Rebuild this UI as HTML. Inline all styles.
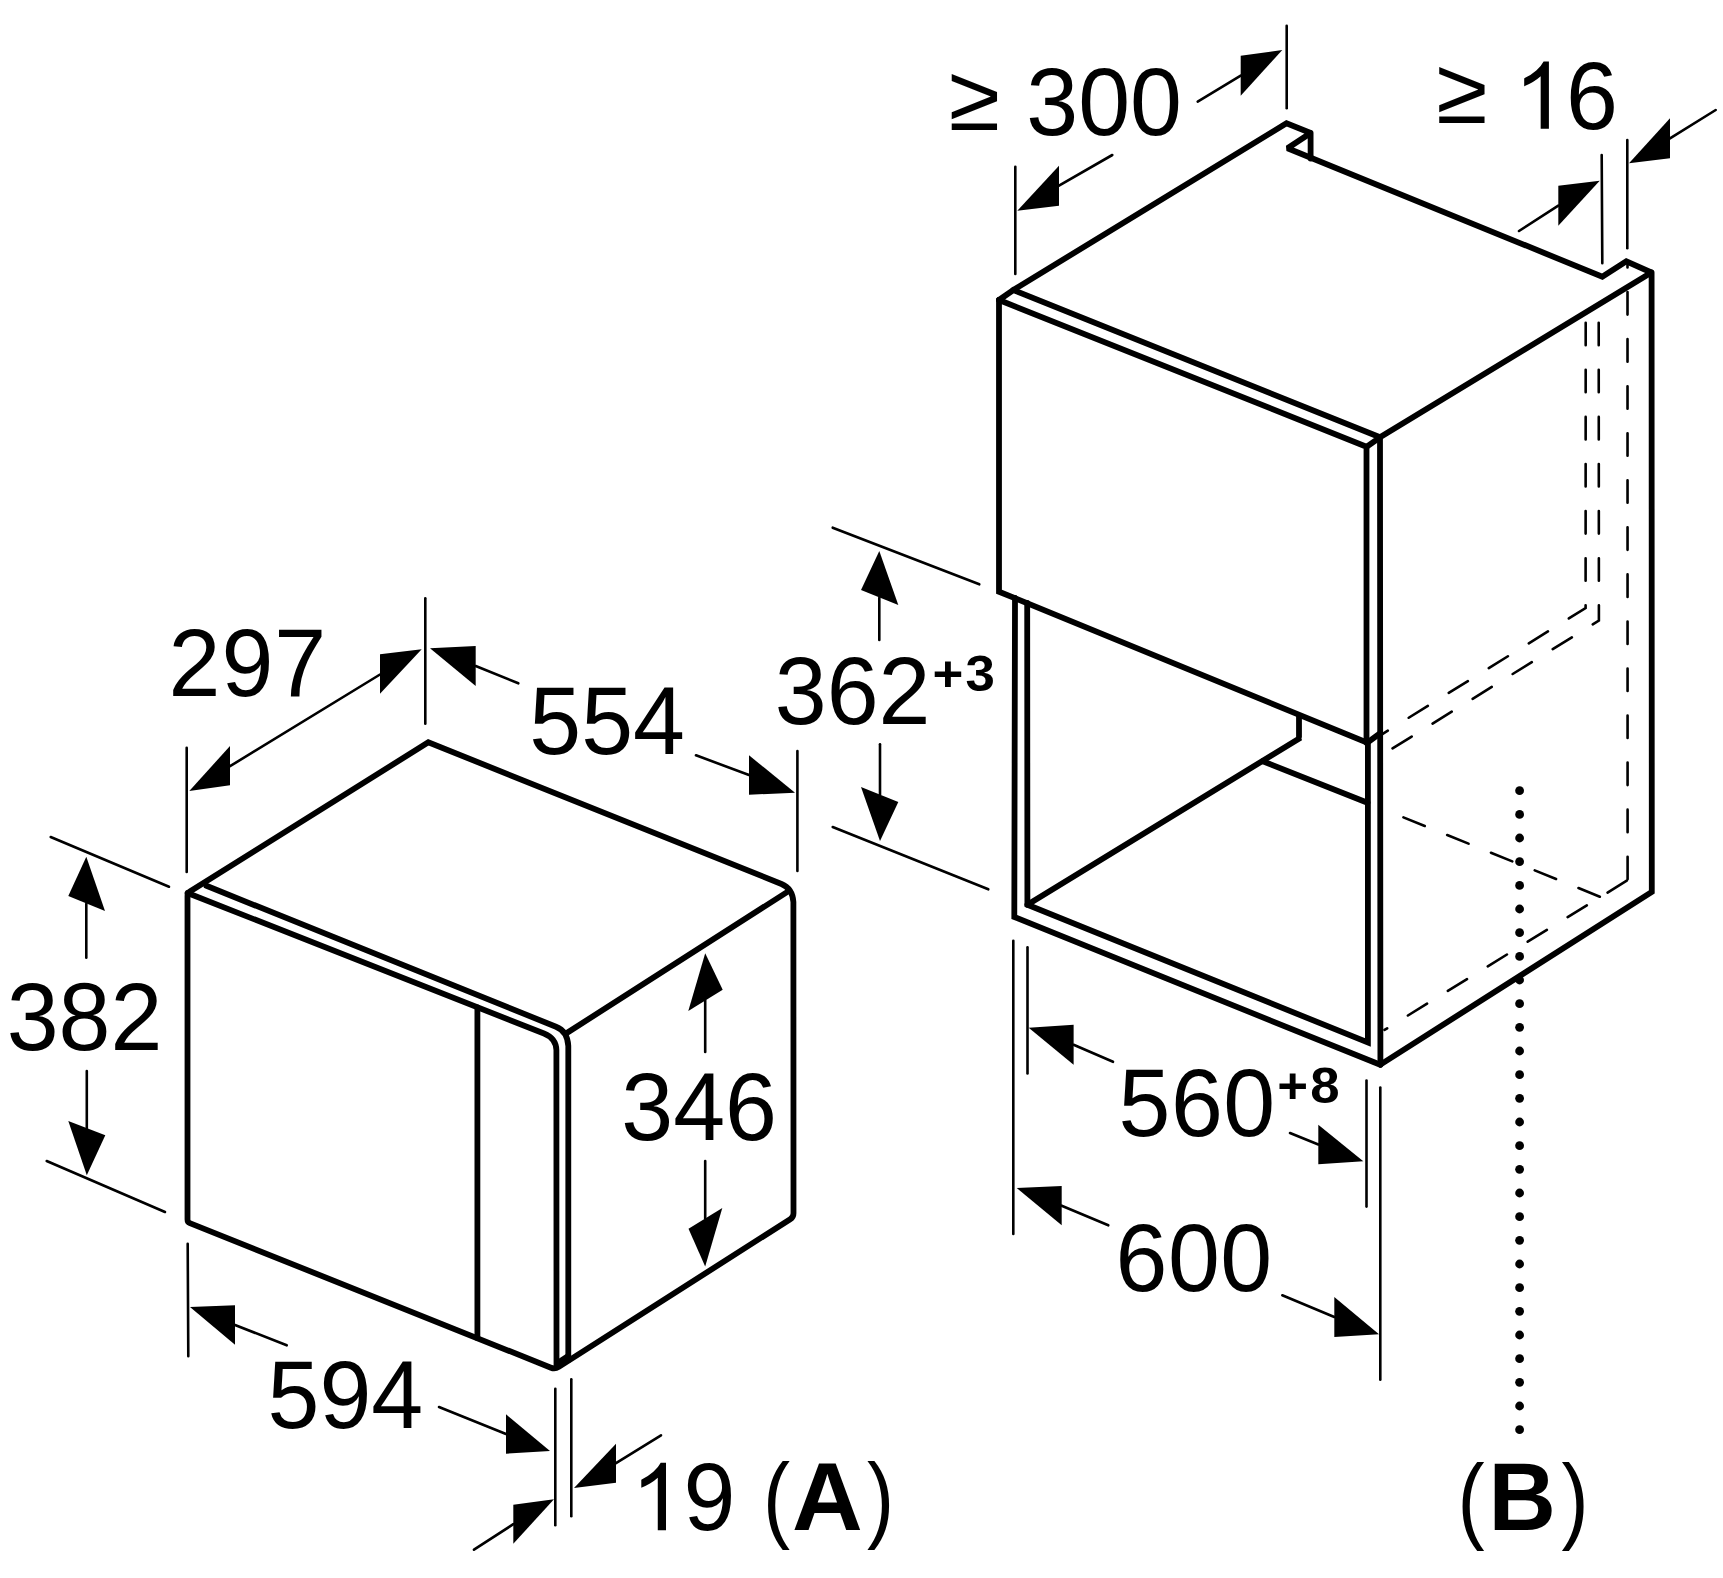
<!DOCTYPE html>
<html><head><meta charset="utf-8"><title>Dimensions</title>
<style>html,body{margin:0;padding:0;background:#fff;overflow:hidden}svg{display:block}text{font-family:"Liberation Sans",sans-serif;fill:#000}</style></head><body>
<svg width="1723" height="1578" viewBox="0 0 1723 1578">
<rect width="1723" height="1578" fill="#fff"/>
<g fill="none" stroke="#000" stroke-width="5.8" stroke-linejoin="miter" stroke-miterlimit="2" stroke-linecap="round">
<path d="M187.5,1219.5 L187.5,895.8 Q187.5,893 189.9,891.5 L428.3,742.3 L781.5,884 Q792.5,888.5 793.4,902 L793.5,1213.2 Q793.5,1217.2 790.2,1219.2 L558.8,1366.9 Q555,1369.3 551,1367.7 L189.8,1223.1 Q187.5,1222.2 187.5,1219.5 Z"/>
<path d="M566.8,1033.0 L787.0,892.1"/>
<path d="M206.4,885.8 L556,1026.7 Q567.6,1031.3 568.3,1046 L568.3,1360"/>
<path d="M187.5,893 L544,1033.5 Q555.9,1038.2 556.4,1050 L556.5,1367"/>
<path d="M558.0,1362.6 L567.5,1356.5"/>
<path d="M477.4,1007.5 L477.4,1338.0"/>
<path d="M999,300 L999,591.7 L1367.3,742.7 L1380,733.3"/>
<path d="M999.0,300.0 L1366.5,446.7 L1366.5,742.7"/>
<path d="M999.0,300.0 L1013.3,290.0 L1380.0,437.3 L1366.5,446.9"/>
<path d="M1380.0,437.3 L1380.4,1064.6"/>
<path d="M1013.3,290.0 L1286.5,123.3 L1310.7,133.0 L1287.5,148.2 L1602.3,276.7 L1626.3,261.3 L1651.4,272.5 L1380.0,437.3"/>
<path d="M1310.6,133.0 L1310.6,158.5"/>
<path d="M1651.6,272.5 L1651.8,892.0 L1380.4,1064.6"/>
<path d="M1015.0,598.0 L1014.3,917.0 L1380.3,1064.8"/>
<path d="M1027.2,603.0 L1027.4,904.7 L1367.9,1042.5 L1367.9,742.7"/>
<path d="M1027.4,904.7 L1300.5,737.7 L1299.0,737.7 L1299.0,716.0"/>
<path d="M1262.8,761.3 L1367.5,802.7"/>
</g>
<g fill="none" stroke="#000" stroke-width="2.6" stroke-linecap="round">
<path d="M186.7,747.7 L186.7,872.0"/>
<path d="M425.3,598.3 L425.3,723.7"/>
<path d="M230.0,766.2 L380.0,674.5"/>
<path d="M475.7,666.0 L518.3,683.3"/>
<path d="M749.0,775.0 L696.0,755.3"/>
<path d="M797.4,751.0 L797.4,871.0"/>
<path d="M50.7,837.0 L169.0,886.7"/>
<path d="M46.7,1161.0 L165.0,1212.0"/>
<path d="M86.3,903.5 L86.3,957.7"/>
<path d="M86.8,1128.2 L86.8,1071.0"/>
<path d="M187.7,1243.7 L188.3,1356.3"/>
<path d="M235.0,1325.0 L286.7,1345.3"/>
<path d="M506.0,1434.0 L439.0,1407.0"/>
<path d="M555.3,1388.7 L555.3,1525.3"/>
<path d="M571.3,1379.3 L571.3,1516.3"/>
<path d="M616.0,1463.2 L661.0,1435.3"/>
<path d="M513.3,1524.2 L474.0,1549.7"/>
<path d="M705.2,1000.4 L705.2,1052.0"/>
<path d="M705.2,1218.3 L705.2,1161.0"/>
<path d="M1015.3,166.7 L1015.3,274.0"/>
<path d="M1286.7,25.7 L1286.7,108.3"/>
<path d="M1059.0,185.7 L1112.3,155.0"/>
<path d="M1240.7,75.7 L1197.7,101.7"/>
<path d="M1601.7,155.0 L1602.3,263.3"/>
<path d="M1627.3,140.0 L1627.3,248.3"/>
<path d="M1670.0,138.3 L1715.7,110.0"/>
<path d="M1558.3,205.7 L1519.0,231.0"/>
<path d="M832.7,527.7 L979.3,584.3"/>
<path d="M832.7,827.0 L988.3,889.3"/>
<path d="M879.3,597.5 L879.3,640.0"/>
<path d="M880.0,794.5 L880.0,744.3"/>
<path d="M1027.5,947.4 L1027.5,1073.5"/>
<path d="M1366.5,1080.5 L1366.5,1206.6"/>
<path d="M1013.3,940.7 L1013.3,1234.0"/>
<path d="M1380.3,1087.5 L1380.3,1379.7"/>
<path d="M1073.6,1044.8 L1113.0,1061.8"/>
<path d="M1318.3,1144.5 L1290.0,1133.0"/>
<path d="M1061.7,1205.7 L1108.3,1225.3"/>
<path d="M1334.3,1317.0 L1282.3,1295.3"/>
</g>
<g fill="none" stroke="#000" stroke-width="2.6" stroke-linecap="round">
<path d="M1585.7,321.7 L1585.6,608.1 L1380.4,735.3" stroke-dasharray="22.50 24.60" stroke-dashoffset="-1.00"/>
<path d="M1598.7,321.7 L1598.9,620.6 L1391.7,748.9" stroke-dasharray="22.50 24.60" stroke-dashoffset="-1.00"/>
<path d="M1627.6,880.2 L1627.5,263" stroke-dasharray="22.50 24.55" stroke-dashoffset="-1.00"/>
<path d="M1627.6,880.2 L1384.5,1029.9" stroke-dasharray="22.50 24.40" stroke-dashoffset="-1.00"/>
<path d="M1402.5,817 L1600.1,896.8" stroke-dasharray="23.00 24.20" stroke-dashoffset="-1.00"/>
</g>
<g fill="#000">
<polygon points="189.3,791.0 230.0,746.0 230.0,785.3"/>
<polygon points="421.7,649.3 380.0,654.3 380.0,693.7"/>
<polygon points="430.0,648.3 475.7,646.0 475.7,686.0"/>
<polygon points="795.0,792.7 749.0,755.3 749.0,794.7"/>
<polygon points="86.3,856.7 68.3,896.0 105.0,911.0"/>
<polygon points="86.8,1175.3 68.3,1121.0 105.3,1135.3"/>
<polygon points="190.0,1307.0 235.0,1305.3 235.0,1344.7"/>
<polygon points="550.0,1451.0 506.0,1414.3 506.0,1453.7"/>
<polygon points="574.0,1488.0 616.0,1443.7 616.0,1482.7"/>
<polygon points="554.0,1499.3 513.3,1504.7 513.3,1543.7"/>
<polygon points="705.2,953.3 688.3,1011.0 722.7,989.7"/>
<polygon points="705.2,1266.4 688.5,1228.7 722.3,1207.9"/>
<polygon points="1017.3,210.7 1059.0,165.7 1059.0,205.7"/>
<polygon points="1282.3,50.0 1240.7,55.7 1240.7,95.7"/>
<polygon points="1629.0,163.3 1670.0,118.3 1670.0,158.3"/>
<polygon points="1599.7,180.7 1558.3,185.7 1558.3,225.7"/>
<polygon points="879.3,551.0 861.0,590.0 898.3,605.0"/>
<polygon points="880.0,841.0 861.0,787.0 898.3,802.0"/>
<polygon points="1028.7,1027.8 1073.6,1024.8 1073.6,1064.8"/>
<polygon points="1363.3,1161.3 1318.3,1124.7 1318.3,1164.3"/>
<polygon points="1016.7,1188.0 1061.7,1186.0 1061.7,1225.3"/>
<polygon points="1379.0,1334.3 1334.3,1297.0 1334.3,1337.0"/>
<circle cx="1519.6" cy="790.7" r="4.4"/>
<circle cx="1519.6" cy="814.4" r="4.4"/>
<circle cx="1519.6" cy="838.0" r="4.4"/>
<circle cx="1519.6" cy="861.7" r="4.4"/>
<circle cx="1519.6" cy="885.4" r="4.4"/>
<circle cx="1519.6" cy="909.0" r="4.4"/>
<circle cx="1519.6" cy="932.7" r="4.4"/>
<circle cx="1519.6" cy="956.4" r="4.4"/>
<circle cx="1519.6" cy="980.0" r="4.4"/>
<circle cx="1519.6" cy="1003.7" r="4.4"/>
<circle cx="1519.6" cy="1027.3" r="4.4"/>
<circle cx="1519.6" cy="1051.0" r="4.4"/>
<circle cx="1519.6" cy="1074.7" r="4.4"/>
<circle cx="1519.6" cy="1098.3" r="4.4"/>
<circle cx="1519.6" cy="1122.0" r="4.4"/>
<circle cx="1519.6" cy="1145.7" r="4.4"/>
<circle cx="1519.6" cy="1169.3" r="4.4"/>
<circle cx="1519.6" cy="1193.0" r="4.4"/>
<circle cx="1519.6" cy="1216.7" r="4.4"/>
<circle cx="1519.6" cy="1240.3" r="4.4"/>
<circle cx="1519.6" cy="1264.0" r="4.4"/>
<circle cx="1519.6" cy="1287.7" r="4.4"/>
<circle cx="1519.6" cy="1311.3" r="4.4"/>
<circle cx="1519.6" cy="1335.0" r="4.4"/>
<circle cx="1519.6" cy="1358.7" r="4.4"/>
<circle cx="1519.6" cy="1382.3" r="4.4"/>
<circle cx="1519.6" cy="1406.0" r="4.4"/>
<circle cx="1519.6" cy="1429.7" r="4.4"/>
</g>
<g>
<text transform="translate(168.5,695.7) scale(1,1.03)" font-size="93.3" letter-spacing="1">297</text>
<text transform="translate(529.3,754.3) scale(1,1.03)" font-size="93.3">554</text>
<text transform="translate(6.7,1050.0) scale(1,1.03)" font-size="93.3">382</text>
<text transform="translate(621.3,1139.6) scale(1,1.03)" font-size="93.3">346</text>
<text transform="translate(267.5,1428.3) scale(1,1.03)" font-size="93.3">594</text>
<path transform="translate(631.1,1530.2) scale(0.04575,-0.04575)" d="M763,0 L583,0 L583,1147 Q518,1085 412.5,1023 Q307,961 223,930 L223,1104 Q374,1175 487,1276 Q600,1377 647,1472 L763,1472 Z" fill="#000"/>
<text transform="translate(683.6,1530.2) scale(1,1.03)" font-size="93.3">9</text>
<text transform="translate(762.95,1530.4) scale(0.873,1.01)" font-size="93.3">(</text>
<text transform="translate(791.9,1530.2) scale(1.05,1.03)" font-size="93.3" font-weight="bold">A</text>
<text transform="translate(866.9,1530.4) scale(0.873,1.01)" font-size="93.3">)</text>
<text transform="translate(774.8,724.0) scale(1,1.03)" font-size="93.3">362</text>
<text transform="translate(932.5,690.8) scale(1.1,1.05)" font-size="48" font-weight="bold" letter-spacing="1.9">+3</text>
<text transform="translate(948.7,130.3) scale(1,1.0)" font-size="93.3">≥</text>
<text transform="translate(1026.3,135.4) scale(1,1.03)" font-size="93.3">300</text>
<text transform="translate(1436.3,123.4) scale(1,1.0)" font-size="93.3">≥</text>
<path transform="translate(1514,128.8) scale(0.04575,-0.04575)" d="M763,0 L583,0 L583,1147 Q518,1085 412.5,1023 Q307,961 223,930 L223,1104 Q374,1175 487,1276 Q600,1377 647,1472 L763,1472 Z" fill="#000"/>
<text transform="translate(1566.1,129) scale(1,1.03)" font-size="93.3">6</text>
<text transform="translate(1118.6,1136.1) scale(1,1.03)" font-size="93.3" letter-spacing="0.4">560</text>
<text transform="translate(1277.3,1102.9) scale(1.1,1.03)" font-size="48" font-weight="bold" letter-spacing="1.9">+8</text>
<text transform="translate(1115.5,1291.3) scale(1,1.03)" font-size="93.3" letter-spacing="0.5">600</text>
<text transform="translate(1457.45,1530.5) scale(0.873,1.01)" font-size="93.3">(</text>
<text transform="translate(1488.6,1530.2) scale(1,1.03)" font-size="93.3" font-weight="bold">B</text>
<text transform="translate(1561.5,1530.5) scale(0.873,1.01)" font-size="93.3">)</text>
</g>
</svg></body></html>
